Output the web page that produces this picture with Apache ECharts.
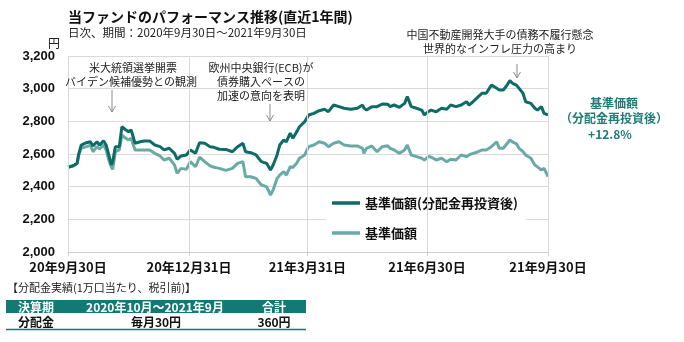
<!DOCTYPE html>
<html><head><meta charset="utf-8">
<script src="https://cdn.jsdelivr.net/npm/echarts@6/dist/echarts.min.js"></script>
<style>html,body{margin:0;padding:0;background:#fff}#c{width:684px;height:342px}</style>
</head><body><div id="c"></div>
<script>
const dates = ['2020-09-30','2020-10-04','2020-10-07','2020-10-08','2020-10-10','2020-10-14','2020-10-17','2020-10-19','2020-10-22','2020-10-24','2020-10-27','2020-10-29','2020-10-31','2020-11-02','2020-11-03','2020-11-05','2020-11-08','2020-11-10','2020-11-13','2020-11-15','2020-11-17','2020-11-20','2020-11-24','2020-11-27','2020-12-01','2020-12-05','2020-12-09','2020-12-12','2020-12-16','2020-12-20','2020-12-22','2020-12-25','2020-12-29','2021-01-01','2021-01-05','2021-01-08','2021-01-12','2021-01-16','2021-01-19','2021-01-23','2021-01-28','2021-02-02','2021-02-06','2021-02-10','2021-02-12','2021-02-16','2021-02-20','2021-02-24','2021-02-28','2021-03-03','2021-03-05','2021-03-08','2021-03-10','2021-03-13','2021-03-15','2021-03-18','2021-03-20','2021-03-23','2021-03-25','2021-03-29','2021-04-01','2021-04-05','2021-04-09','2021-04-13','2021-04-16','2021-04-20','2021-04-24','2021-04-28','2021-05-03','2021-05-08','2021-05-12','2021-05-13','2021-05-15','2021-05-19','2021-05-23','2021-05-27','2021-05-31','2021-06-02','2021-06-05','2021-06-09','2021-06-13','2021-06-15','2021-06-18','2021-06-22','2021-06-26','2021-06-28','2021-07-01','2021-07-03','2021-07-07','2021-07-11','2021-07-15','2021-07-18','2021-07-22','2021-07-26','2021-07-30','2021-08-01','2021-08-04','2021-08-08','2021-08-11','2021-08-14','2021-08-18','2021-08-22','2021-08-24','2021-08-27','2021-08-29','2021-09-01','2021-09-03','2021-09-06','2021-09-08','2021-09-11','2021-09-13','2021-09-17','2021-09-20','2021-09-22','2021-09-25','2021-09-27','2021-09-30'];
const navReinvested = [2519,2528,2543,2594,2655,2669,2675,2649,2675,2655,2681,2655,2594,2533,2553,2645,2645,2767,2747,2737,2747,2666,2675,2680,2680,2655,2645,2625,2635,2604,2568,2588,2594,2625,2604,2669,2666,2645,2641,2629,2628,2614,2645,2666,2614,2608,2594,2553,2543,2502,2533,2594,2655,2686,2675,2727,2696,2737,2767,2798,2839,2849,2865,2874,2859,2900,2890,2880,2874,2880,2900,2882,2869,2890,2890,2906,2905,2890,2900,2886,2910,2951,2890,2880,2869,2839,2859,2869,2859,2880,2874,2900,2890,2900,2920,2900,2920,2951,2972,2972,3022,3002,2992,2992,3012,3049,3033,3022,3002,2972,2920,2910,2880,2869,2890,2849,2839];
const nav = [2519,2528,2543,2590,2635,2645,2653,2614,2645,2631,2655,2625,2563,2519,2506,2614,2625,2716,2696,2686,2696,2625,2625,2625,2625,2604,2588,2563,2574,2533,2482,2512,2506,2553,2522,2580,2553,2527,2519,2512,2500,2512,2543,2553,2461,2461,2451,2410,2400,2349,2380,2451,2471,2492,2471,2522,2517,2545,2574,2594,2645,2655,2675,2666,2645,2666,2675,2655,2649,2649,2635,2604,2635,2649,2614,2645,2650,2635,2625,2604,2625,2655,2594,2584,2574,2563,2584,2582,2563,2574,2553,2568,2563,2594,2584,2594,2604,2614,2625,2625,2645,2675,2635,2635,2655,2686,2674,2662,2635,2615,2594,2574,2533,2521,2502,2512,2461];
const xTickDates = ['2020-09-30','2020-12-31','2021-03-31','2021-06-30','2021-09-30'];
const xTickLabels = ['20年9月30日','20年12月31日','21年3月31日','21年6月30日','21年9月30日'];
const yTicks = [2000,2200,2400,2600,2800,3000,3200];
const yTickLabels = ['2,000','2,200','2,400','2,600','2,800','3,000','3,200'];
const seriesNames = ['基準価額(分配金再投資後)','基準価額'];

const JP = '"Noto Sans CJK JP", sans-serif';
const DARK = '#0d6c66', LIGHT = '#6aaaa5', TEAL_TXT = '#1e7d76', TABLE = '#127a72';

function parseD(s){const p=s.split('-');return Date.UTC(+p[0],+p[1]-1,+p[2]);}
const xTickTimes = xTickDates.map(parseD);

const chart = echarts.init(document.getElementById('c'), null, {renderer:'canvas'});

function txt(x,y,text,opt){
  opt = opt||{};
  return {type:'text', x:x, y:y, silent:true, z:100, style:{text:text, fill:opt.fill||'#222', font:(opt.weight||'normal')+' '+(opt.size||11)+'px '+JP, textAlign:opt.align||'left', textVerticalAlign:'middle'}};
}
function arrow(x,y1,y2){
  return [
    {type:'polyline', silent:true, z:100, shape:{points:[[x,y1],[x,y2]]}, style:{stroke:'#8a8a8a', lineWidth:1, fill:null}},
    {type:'polyline', silent:true, z:100, shape:{points:[[x-3.5,y2-6],[x,y2],[x+3.5,y2-6]]}, style:{stroke:'#8a8a8a', lineWidth:1, fill:null}}
  ];
}

const graphics = [
  txt(68,17,'当ファンドのパフォーマンス推移(直近1年間)',{size:14,weight:'bold',fill:'#111'}),
  txt(68,33,'日次、期間：2020年9月30日～2021年9月30日',{size:11.5,fill:'#222'}),
  txt(54,43,'円',{size:12,align:'center',fill:'#222'}),
  txt(133,68,'米大統領選挙開票',{align:'center'}),
  txt(131,82,'バイデン候補優勢との観測',{align:'center'}),
  txt(261,68,'欧州中央銀行(ECB)が',{align:'center'}),
  txt(261,82,'債券購入ペースの',{align:'center'}),
  txt(261,96,'加速の意向を表明',{align:'center'}),
  txt(500,35,'中国不動産開発大手の債務不履行懸念',{align:'center'}),
  txt(500,49,'世界的なインフレ圧力の高まり',{align:'center'}),
  ...arrow(112,90,112),
  ...arrow(270,104,121),
  ...arrow(517,64,78),
  txt(614,103,'基準価額',{size:12,weight:'bold',fill:TEAL_TXT,align:'center'}),
  txt(614,118,'（分配金再投資後）',{size:12,weight:'bold',fill:TEAL_TXT,align:'center'}),
  txt(610,134,'+12.8%',{size:12,weight:'bold',fill:TEAL_TXT,align:'center'}),
  txt(7,288,'【分配金実績(1万口当たり、税引前)】',{size:11,fill:'#222'}),
  {type:'rect', silent:true, z:90, shape:{x:6,y:300,width:300,height:13}, style:{fill:TABLE}},
  txt(18,307,'決算期',{size:12,weight:'bold',fill:'#fff'}),
  txt(155,307,'2020年10月～2021年9月',{size:12,weight:'bold',fill:'#fff',align:'center'}),
  txt(274,307,'合計',{size:12,weight:'bold',fill:'#fff',align:'center'}),
  txt(18,322,'分配金',{size:12,weight:'bold',fill:'#111'}),
  txt(156,322,'毎月30円',{size:12,weight:'bold',fill:'#111',align:'center'}),
  txt(274,322,'360円',{size:12,weight:'bold',fill:'#111',align:'center'}),
  {type:'line', silent:true, z:90, shape:{x1:6,y1:329.5,x2:306,y2:329.5}, style:{stroke:TABLE, lineWidth:1.5}}
];

const option = {
  animation:false,
  backgroundColor:'#fff',
  grid:{left:68,right:136,top:56,bottom:90},
  xAxis:{
    type:'value', min:xTickTimes[0], max:xTickTimes[xTickTimes.length-1],
    axisLine:{show:true, lineStyle:{color:'#cfcfcf', width:1}},
    axisTick:{show:true, customValues:xTickTimes, length:4, lineStyle:{color:'#cfcfcf'}},
    splitLine:{show:false},
    axisLabel:{customValues:xTickTimes, showMinLabel:true, showMaxLabel:true, hideOverlap:false, margin:9,
      fontSize:13, fontWeight:'bold', color:'#111', fontFamily:JP,
      formatter:function(v){
        for(let i=0;i<xTickTimes.length;i++){ if(Math.abs(xTickTimes[i]-v)<43200000) return xTickLabels[i]; }
        return '';
      }}
  },
  yAxis:{
    type:'value', min:yTicks[0], max:yTicks[yTicks.length-1], interval:200,
    axisLine:{show:false}, axisTick:{show:false},
    splitLine:{show:true, lineStyle:{color:'#d9d9d9', width:1}},
    axisLabel:{margin:13, fontSize:13, fontWeight:'bold', color:'#111', fontFamily:'"Liberation Sans", Arial, sans-serif',
      formatter:function(v){ const i=yTicks.indexOf(v); return i>=0?yTickLabels[i]:''; }}
  },
  legend:{
    data:seriesNames, orient:'vertical', left:326, top:189,
    backgroundColor:'#fff', padding:[6,8,6,6], itemGap:14,
    icon:'rect', itemWidth:28, itemHeight:3.5,
    textStyle:{fontSize:13, fontWeight:'bold', color:'#111', fontFamily:JP, lineHeight:16}
  },
  graphic:graphics,
  series:[
    {type:'line', name:'_grid', silent:true, z:1, data:[[xTickTimes[0], yTicks[0]]], symbol:'none', lineStyle:{opacity:0},
      markLine:{silent:true, symbol:['none','none'], label:{show:false}, animation:false,
        lineStyle:{color:'#d9d9d9', type:'solid', width:1},
        data:xTickTimes.map(t=>({xAxis:t}))}},
    {type:'line', name:seriesNames[1], z:3, data:dates.map((d,i)=>[parseD(d),nav[i]]), showSymbol:false, symbol:'none',
      lineStyle:{color:LIGHT, width:3}, itemStyle:{color:LIGHT}},
    {type:'line', name:seriesNames[0], z:4, data:dates.map((d,i)=>[parseD(d),navReinvested[i]]), showSymbol:false, symbol:'none',
      lineStyle:{color:DARK, width:3}, itemStyle:{color:DARK}}
  ]
};
chart.setOption(option);
</script></body></html>
